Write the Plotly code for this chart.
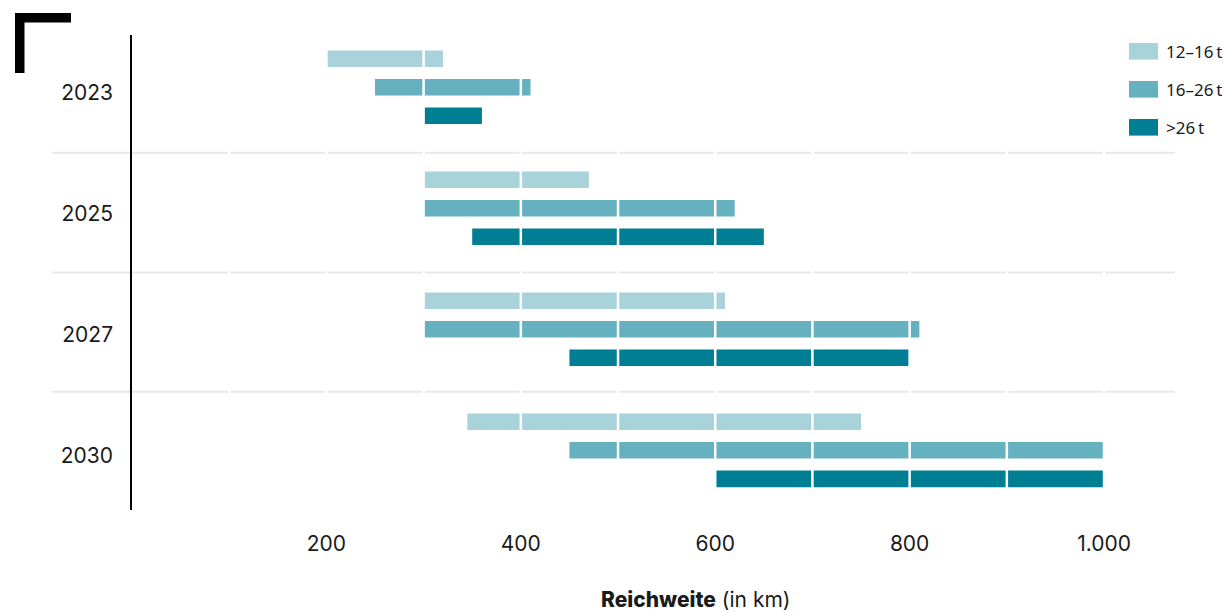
import plotly.graph_objects as go

years = ["2023", "2025", "2027", "2030"]
series_names = ["12–16\u2009t", "16–26\u2009t", ">26\u2009t"]
series_colors = ["#a8d3da", "#66b1c0", "#007e94"]
range_start = [
    [200, 300, 300, 345],   # 12–16 t
    [250, 300, 300, 450],   # 16–26 t
    [300, 350, 450, 600],   # >26 t
]
range_end = [
    [320, 470, 610, 750],
    [410, 620, 810, 1000],
    [360, 650, 800, 1000],
]
tick_vals = [200, 400, 600, 800, 1000]
tick_text = ["200", "400", "600", "800", "1.000"]
grid_vals = [100, 200, 300, 400, 500, 600, 700, 800, 900, 1000]
separators = [0.54, 1.53, 2.515]

W, H = 1229, 613
L, R, T, B = 132, 54, 35, 103
PW, PH = W - L - R, H - T - B


def px(x):
    return (x - L) / PW


def py(y):
    return (H - B - y) / PH


FONT = "Inter"
TXT = "#1a1a1a"

fig = go.Figure()
for name, col, s, e in zip(series_names, series_colors, range_start, range_end):
    fig.add_trace(go.Bar(
        y=years, x=[b - a for a, b in zip(s, e)], base=s, name=name,
        orientation="h", marker=dict(color=col, line=dict(width=0)),
        showlegend=False, hoverinfo="skip",
    ))

shapes = []
# category separators (light grey), extending into the left margin
for s in separators:
    shapes.append(dict(type="line", xref="paper", yref="y", x0=px(52), x1=1,
                       y0=s, y1=s, line=dict(color="#e5e9ed", width=2),
                       layer="below"))
# white vertical grid lines drawn above bars
for g in grid_vals:
    shapes.append(dict(type="line", xref="x", yref="paper", x0=g, x1=g,
                       y0=0, y1=1, line=dict(color="white", width=2.5),
                       layer="above"))
# corner bracket
pts = [(15, 13), (71, 13), (71, 22.5), (24.5, 22.5), (24.5, 73), (15, 73)]
path = "M " + " L ".join(f"{px(a):.5f},{py(b):.5f}" for a, b in pts) + " Z"
shapes.append(dict(type="path", xref="paper", yref="paper", path=path,
                   fillcolor="black", line=dict(width=0), layer="above"))

annotations = []
# custom legend
for i, (name, col) in enumerate(zip(series_names, series_colors)):
    cy = 51.3 + 38 * i
    shapes.append(dict(type="rect", xref="paper", yref="paper",
                       x0=px(1129), x1=px(1158), y0=py(cy - 8.3), y1=py(cy + 8.3),
                       fillcolor=col, line=dict(width=0), layer="above"))
    annotations.append(dict(xref="paper", yref="paper", x=px(1164), y=py(cy),
                            xanchor="left", yanchor="middle", text=name,
                            showarrow=False,
                            font=dict(family="Noto Sans", size=17, color=TXT)))

annotations.append(dict(xref="paper", yref="paper", x=px(695), y=py(599),
                        xanchor="center", yanchor="middle",
                        text="<span style='font-weight:800'>Reichweite</span> (in km)",
                        showarrow=False,
                        font=dict(family=FONT, size=21, color=TXT)))

fig.update_layout(
    width=W, height=H,
    margin=dict(l=L, r=R, t=T, b=B, pad=0),
    paper_bgcolor="white", plot_bgcolor="white",
    barmode="group", bargap=0.293, bargroupgap=0.42,
    shapes=shapes, annotations=annotations,
    font=dict(family=FONT, color=TXT),
    xaxis=dict(range=[0, 1073], tickvals=tick_vals, ticktext=tick_text,
               showgrid=False, zeroline=False, showline=False,
               ticks="outside", ticklen=15, tickcolor="rgba(0,0,0,0)",
               tickfont=dict(family=FONT, size=21, color=TXT)),
    yaxis=dict(type="category", categoryorder="array", categoryarray=years,
               range=[3.493, -0.432], showgrid=False, zeroline=False,
               showline=True, linecolor="black", linewidth=1.5,
               ticks="outside", ticklen=13, tickcolor="rgba(0,0,0,0)",
               ticklabelshift=-5,
               tickfont=dict(family=FONT, size=21, color=TXT)),
)

fig.write_html("out.html", config={"displayModeBar": False},
               post_script="document.body.style.margin='0';"
                           "document.body.style.overflow='hidden';")
